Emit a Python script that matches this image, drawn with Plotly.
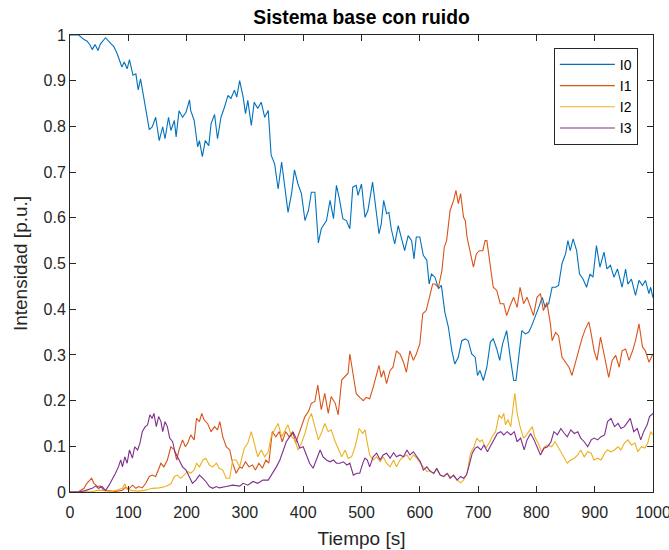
import plotly.graph_objects as go

# Time (s) / current (p.u.) samples for each phase-sequence component
I0_PTS = [(0,1.0),(15,1.0),(24,0.99),(29,0.987),(35,0.977),(38,0.968),(43,0.979),(48,0.966),(52,0.98),(61,0.994),
          (70,0.981),(75,0.975),(81,0.959),(84,0.948),(89,0.93),(93,0.941),(98,0.926),(102,0.946),(108,0.912),(113,0.915),
          (117,0.88),(121,0.904),(127,0.857),(131,0.835),(136,0.793),(141,0.799),(147,0.82),(153,0.769),(159,0.799),(163,0.773),
          (169,0.82),(173,0.791),(179,0.813),(182,0.777),(187,0.834),(193,0.82),(199,0.831),(205,0.858),(207,0.835),(213,0.813),
          (219,0.755),(222,0.769),(227,0.734),(232,0.769),(238,0.758),(242,0.806),(248,0.826),(253,0.773),(259,0.82),(265,0.842),
          (271,0.868),(276,0.861),(282,0.879),(286,0.864),(291,0.9),(297,0.864),(301,0.828),(305,0.857),(311,0.802),(316,0.853),
          (322,0.839),(328,0.853),(334,0.82),(340,0.835),(345,0.737),(351,0.718),(357,0.663),(363,0.722),(368,0.671),(374,0.612),
          (380,0.653),(385,0.705),(391,0.674),(397,0.653),(403,0.594),(409,0.616),(414,0.656),(420,0.656),(426,0.545),(431,0.576),
          (440,0.594),(446,0.638),(452,0.598),(457,0.671),(462,0.642),(468,0.598),(474,0.594),(480,0.576),(485,0.667),(491,0.671),
          (494,0.649),(500,0.674),(506,0.601),(511,0.616),(519,0.678),(524,0.623),(530,0.565),(534,0.587),(538,0.638),(543,0.609),
          (547,0.612),(551,0.576),(557,0.543),(563,0.583),(569,0.55),(574,0.528),(580,0.561),(586,0.55),(590,0.51),(594,0.558),
          (600,0.558),(606,0.518),(612,0.507),(616,0.455),(620,0.477),(626,0.47),(632,0.445),(637,0.452),(643,0.393),(649,0.361),
          (655,0.309),(660,0.28),(666,0.295),(672,0.331),(678,0.335),(683,0.331),(689,0.302),(695,0.295),(699,0.255),(703,0.266),
          (709,0.244),(715,0.273),(721,0.328),(726,0.335),(732,0.313),(737,0.288),(742,0.324),(749,0.353),(755,0.295),(761,0.244),
          (765,0.244),(771,0.317),(775,0.353),(781,0.346),(787,0.35),(792,0.364),(798,0.382),(804,0.404),(810,0.426),(815,0.404),
          (821,0.412),(827,0.448),(833,0.448),(838,0.452),(844,0.5),(850,0.521),(854,0.55),(858,0.528),(863,0.554),(869,0.528),
          (874,0.477),(880,0.466),(886,0.448),(892,0.477),(897,0.47),(903,0.539),(909,0.492),(916,0.525),(921,0.488),(927,0.496),
          (933,0.47),(939,0.488),(947,0.448),(953,0.488),(957,0.455),(963,0.466),(970,0.43),(976,0.463),(982,0.452),(987,0.463),
          (993,0.434),(996,0.448),(1000,0.425)]

I1_PTS = [(0,0.0),(15,0.001),(24,0.008),(29,0.019),(37,0.03),(41,0.019),(47,0.012),(52,0.013),(58,0.004),(67,0.002),
          (78,0.001),(90,0.004),(95,0.01),(101,0.007),(107,0.015),(113,0.008),(118,0.012),(124,0.009),(130,0.019),(136,0.034),
          (141,0.037),(147,0.034),(153,0.055),(156,0.063),(161,0.055),(167,0.07),(173,0.099),(179,0.092),(183,0.07),(187,0.092),
          (193,0.114),(198,0.099),(202,0.107),(207,0.125),(213,0.114),(217,0.161),(222,0.154),(226,0.172),(230,0.158),(236,0.15),
          (242,0.132),(248,0.143),(253,0.136),(257,0.154),(262,0.121),(268,0.099),(274,0.092),(279,0.063),(285,0.041),(291,0.055),
          (295,0.052),(301,0.066),(307,0.055),(313,0.059),(318,0.048),(324,0.063),(330,0.052),(336,0.07),(341,0.063),(347,0.132),
          (353,0.121),(359,0.132),(364,0.11),(370,0.132),(376,0.121),(382,0.132),(387,0.107),(393,0.128),(399,0.147),(403,0.165),
          (409,0.176),(414,0.194),(420,0.198),(425,0.234),(431,0.18),(437,0.216),(443,0.172),(448,0.209),(455,0.194),(460,0.169),
          (466,0.245),(472,0.253),(477,0.26),(480,0.302),(485,0.258),(491,0.215),(497,0.207),(503,0.2),(508,0.207),(514,0.204),
          (520,0.229),(526,0.258),(530,0.277),(534,0.251),(538,0.266),(543,0.237),(549,0.266),(554,0.273),(560,0.309),(566,0.302),
          (572,0.284),(577,0.262),(583,0.309),(589,0.288),(594,0.302),(600,0.324),(605,0.39),(611,0.397),(616,0.426),(622,0.455),
          (626,0.455),(632,0.448),(638,0.485),(642,0.536),(646,0.55),(652,0.616),(658,0.638),(662,0.66),(666,0.631),(670,0.653),
          (675,0.601),(678,0.594),(681,0.558),(686,0.528),(692,0.492),(697,0.521),(702,0.528),(708,0.528),(712,0.55),(715,0.55),
          (721,0.499),(726,0.448),(732,0.441),(738,0.412),(744,0.412),(749,0.386),(755,0.408),(761,0.426),(767,0.404),(772,0.448),
          (778,0.412),(784,0.426),(790,0.404),(795,0.386),(801,0.426),(807,0.434),(812,0.397),(818,0.415),(824,0.368),(827,0.331),
          (833,0.349),(838,0.342),(844,0.295),(850,0.284),(856,0.273),(861,0.255),(867,0.284),(873,0.313),(878,0.335),(884,0.357),
          (890,0.372),(894,0.346),(899,0.309),(904,0.288),(910,0.339),(916,0.302),(921,0.273),(924,0.251),(930,0.288),(936,0.299),
          (942,0.273),(947,0.309),(953,0.313),(959,0.288),(965,0.309),(970,0.331),(976,0.368),(982,0.317),(987,0.309),(993,0.284),
          (1000,0.302)]

I2_PTS = [(0,0.0),(38,0.001),(49,0.004),(61,0.002),(72,0.001),(90,0.008),(94,0.018),(98,0.006),(107,0.003),(118,0.002),
          (130,0.004),(141,0.008),(153,0.009),(164,0.012),(173,0.018),(179,0.034),(184,0.037),(190,0.03),(196,0.037),(202,0.045),
          (207,0.041),(213,0.048),(217,0.063),(222,0.055),(228,0.07),(233,0.074),(239,0.059),(245,0.055),(251,0.063),(256,0.052),
          (262,0.048),(268,0.03),(274,0.03),(279,0.07),(285,0.07),(291,0.055),(299,0.096),(305,0.107),(311,0.132),(317,0.099),
          (322,0.077),(328,0.092),(334,0.077),(340,0.088),(345,0.121),(351,0.136),(357,0.15),(363,0.121),(368,0.132),(374,0.147),
          (380,0.121),(386,0.114),(391,0.092),(397,0.107),(403,0.128),(409,0.158),(414,0.172),(420,0.143),(426,0.114),(432,0.132),
          (437,0.15),(443,0.132),(448,0.136),(455,0.11),(460,0.096),(466,0.077),(472,0.092),(477,0.074),(483,0.077),(489,0.099),
          (493,0.121),(496,0.139),(502,0.128),(506,0.136),(510,0.107),(514,0.081),(520,0.07),(526,0.077),(532,0.066),(537,0.077),
          (543,0.063),(549,0.055),(555,0.07),(560,0.055),(566,0.07),(572,0.077),(578,0.081),(583,0.07),(589,0.081),(595,0.074),
          (601,0.063),(606,0.055),(612,0.045),(618,0.047),(624,0.04),(629,0.05),(635,0.037),(641,0.033),(647,0.04),(652,0.034),
          (658,0.035),(664,0.026),(670,0.02),(675,0.026),(681,0.041),(687,0.085),(693,0.099),(698,0.118),(703,0.11),(707,0.114),
          (713,0.096),(719,0.107),(724,0.121),(730,0.132),(736,0.169),(740,0.161),(744,0.172),(747,0.147),(751,0.158),(756,0.143),
          (759,0.18),(763,0.216),(767,0.172),(772,0.143),(778,0.118),(783,0.125),(789,0.136),(793,0.143),(797,0.121),(803,0.107),
          (809,0.088),(814,0.099),(820,0.103),(826,0.099),(832,0.11),(837,0.099),(842,0.088),(848,0.077),(853,0.063),(859,0.07),
          (865,0.074),(871,0.081),(876,0.092),(882,0.077),(888,0.088),(894,0.085),(899,0.07),(905,0.074),(911,0.07),(917,0.085),
          (922,0.092),(928,0.088),(934,0.092),(940,0.099),(945,0.092),(951,0.107),(957,0.114),(963,0.103),(969,0.107),(974,0.088),
          (980,0.099),(986,0.096),(991,0.107),(996,0.132),(1000,0.125)]

I3_PTS = [(0,0.0),(15,0.0),(26,0.003),(38,0.008),(44,0.013),(49,0.008),(55,0.012),(61,0.003),(67,0.015),(72,0.026),
          (78,0.041),(83,0.055),(87,0.07),(90,0.055),(94,0.077),(98,0.063),(102,0.092),(107,0.074),(111,0.099),(116,0.092),
          (120,0.107),(124,0.132),(129,0.143),(133,0.147),(137,0.169),(141,0.161),(144,0.172),(148,0.143),(152,0.165),(156,0.154),
          (159,0.132),(163,0.154),(167,0.143),(171,0.118),(176,0.11),(180,0.088),(184,0.077),(189,0.066),(193,0.055),(199,0.048),
          (205,0.03),(210,0.019),(216,0.026),(222,0.037),(228,0.03),(233,0.023),(239,0.012),(245,0.008),(251,0.012),(256,0.009),
          (268,0.012),(279,0.015),(291,0.013),(297,0.019),(305,0.015),(314,0.023),(322,0.019),(331,0.026),(340,0.026),(348,0.041),
          (354,0.055),(360,0.07),(366,0.092),(371,0.11),(377,0.121),(383,0.13),(389,0.114),(394,0.096),(400,0.099),(406,0.081),
          (411,0.063),(417,0.052),(423,0.074),(429,0.092),(434,0.077),(440,0.07),(446,0.066),(452,0.07),(457,0.063),(463,0.063),
          (469,0.066),(475,0.059),(480,0.063),(486,0.037),(492,0.041),(497,0.041),(503,0.066),(506,0.074),(510,0.07),(514,0.055),
          (520,0.077),(526,0.085),(532,0.07),(537,0.081),(543,0.085),(549,0.074),(555,0.086),(560,0.077),(566,0.081),(572,0.077),
          (578,0.092),(583,0.081),(589,0.088),(595,0.077),(601,0.066),(606,0.048),(612,0.055),(618,0.045),(624,0.041),(629,0.052),
          (635,0.037),(641,0.034),(647,0.041),(652,0.03),(658,0.037),(664,0.026),(670,0.034),(675,0.03),(680,0.037),(684,0.055),
          (690,0.085),(695,0.096),(699,0.099),(705,0.092),(710,0.103),(716,0.088),(721,0.099),(727,0.114),(733,0.128),(739,0.132),
          (744,0.125),(750,0.132),(756,0.125),(762,0.132),(767,0.11),(773,0.118),(779,0.092),(784,0.114),(790,0.128),(796,0.114),
          (802,0.096),(807,0.081),(813,0.096),(819,0.099),(825,0.11),(830,0.132),(836,0.125),(842,0.139),(848,0.128),(853,0.121),
          (859,0.136),(865,0.128),(871,0.132),(876,0.118),(882,0.11),(888,0.099),(894,0.114),(899,0.118),(905,0.114),(911,0.121),
          (917,0.125),(922,0.154),(928,0.161),(934,0.143),(940,0.15),(945,0.139),(951,0.143),(957,0.154),(961,0.161),(967,0.132),
          (973,0.139),(979,0.114),(984,0.132),(990,0.147),(994,0.165),(1000,0.172)]

SERIES_NAMES = ["I0", "I1", "I2", "I3"]
SERIES_COLORS = ["#0072BD", "#D95319", "#EDB120", "#7E2F8E"]
X_TICKS = [0, 100, 200, 300, 400, 500, 600, 700, 800, 900, 1000]
Y_TICKS = [0, 0.1, 0.2, 0.3, 0.4, 0.5, 0.6, 0.7, 0.8, 0.9, 1]

FONT = "Liberation Sans, Arial, Helvetica, sans-serif"
AXIS_COLOR = "#262626"

fig = go.Figure()
for name, color, pts in zip(SERIES_NAMES, SERIES_COLORS, [I0_PTS, I1_PTS, I2_PTS, I3_PTS]):
    t, v = zip(*pts)
    fig.add_trace(go.Scatter(
        x=list(t), y=list(v), mode="lines", name=name, legendgroup=name,
        line=dict(color=color, width=1.1),
    ))

axis_common = dict(
    showline=True, mirror="ticks", linecolor=AXIS_COLOR, linewidth=1,
    ticks="inside", ticklen=6, tickcolor=AXIS_COLOR, tickwidth=1,
    showgrid=False, zeroline=False, ticklabeloverflow="allow", automargin=False,
    tickfont=dict(family=FONT, size=16, color=AXIS_COLOR),
)

fig.update_layout(
    width=669, height=550,
    margin=dict(l=70, r=16, t=35, b=58),
    paper_bgcolor="white", plot_bgcolor="white",
    font=dict(family=FONT, color=AXIS_COLOR),
    title=dict(text="<b>Sistema base con ruido</b>", x=0.5, xref="paper", xanchor="center",
               y=1, yref="container", yanchor="top", pad=dict(t=10),
               font=dict(family=FONT, size=19.3, color="black")),
    xaxis=dict(range=[0, 1000], tickvals=X_TICKS, ticktext=[str(x) for x in X_TICKS],
               ticklabelstandoff=6,
               title=dict(text="Tiempo [s]", standoff=11, font=dict(family=FONT, size=19, color=AXIS_COLOR)),
               **axis_common),
    yaxis=dict(range=[0, 1], tickvals=Y_TICKS, ticktext=[f"{y:g}" for y in Y_TICKS],
               title=dict(text="Intensidad [p.u.]", standoff=10, font=dict(family=FONT, size=19, color=AXIS_COLOR)),
               **axis_common),
    legend=dict(x=0.974, y=0.972, xanchor="right", yanchor="top",
                bgcolor="white", bordercolor=AXIS_COLOR, borderwidth=1,
                font=dict(family=FONT, size=14, color="black"),
                tracegroupgap=0, itemwidth=55),
    showlegend=True,
)

fig.write_html("out.html")
